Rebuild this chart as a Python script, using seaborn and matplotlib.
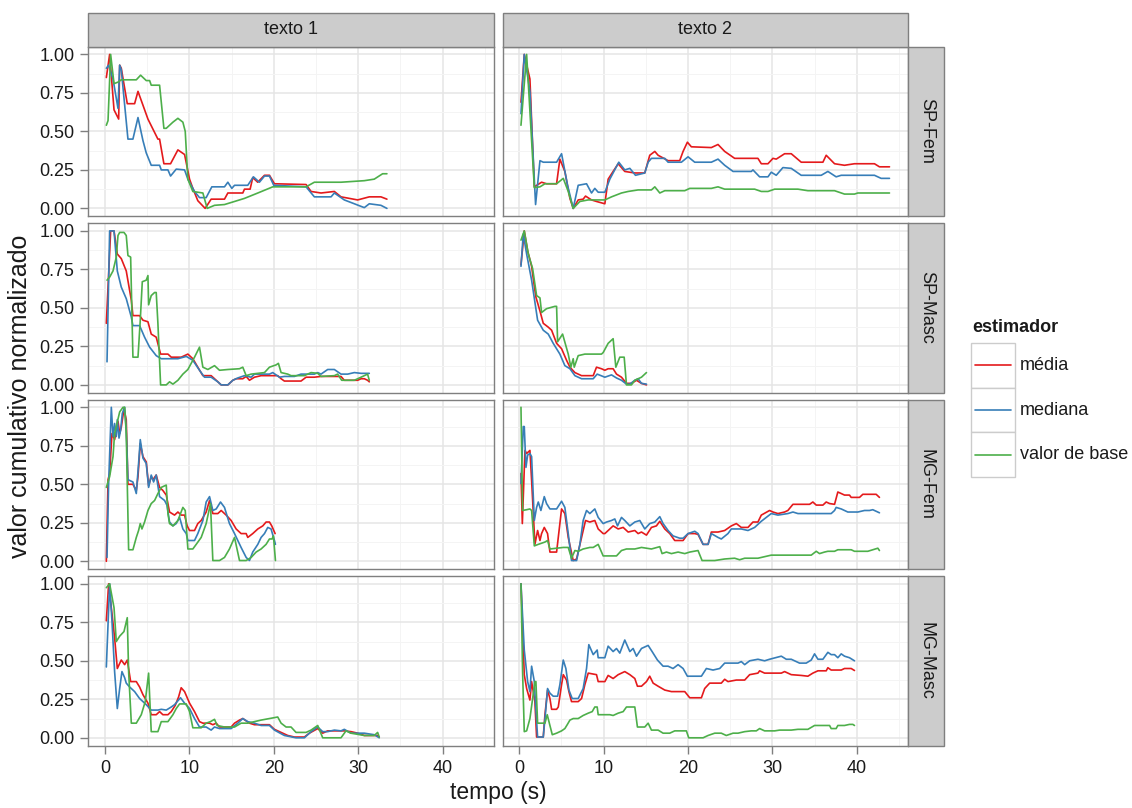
import numpy as np
import pandas as pd
import matplotlib
matplotlib.use("Agg")
import matplotlib.pyplot as plt
from matplotlib.patches import Rectangle
from matplotlib.lines import Line2D
import seaborn as sns

# ---------------- data ----------------
TEXTOS = ["texto 1", "texto 2"]
GRUPOS = ["SP-Fem", "SP-Masc", "MG-Fem", "MG-Masc"]
ESTIMADORES = ["média", "mediana", "valor de base"]
CORES = ["#E41A1C", "#377EB8", "#4DAF4A"]

X_TICKS = [0, 10, 20, 30, 40]
X_TICK_LABELS = ["0", "10", "20", "30", "40"]
X_MINOR = [5, 15, 25, 35, 45]
Y_TICKS = [0.0, 0.25, 0.5, 0.75, 1.0]
Y_TICK_LABELS = ["0.00", "0.25", "0.50", "0.75", "1.00"]
Y_MINOR = [0.125, 0.375, 0.625, 0.875]

X_LABEL = "tempo (s)"
Y_LABEL = "valor cumulativo normalizado"
LEGEND_TITLE = "estimador"

# (tempo, valor) pairs
T1_SPFEM_MEDIA = [(0.16, .85), (0.55, 1.0), (1.07, .64), (1.62, .58), (1.74, .93), (1.93, .91), (2.64, .68), (3.51, .68), (3.91, .76), (5.09, .58), (6.27, .45), (6.47, .45), (6.98, .29), (7.77, .29), (8.64, .38), (9.43, .35), (10.02, .19), (10.41, .13), (11.0, .05), (11.87, .0), (12.58, .06), (14.16, .06), (14.56, .10), (16.33, .10), (16.53, .125), (17.2, .125), (17.51, .20), (18.1, .17), (18.9, .215), (19.49, .215), (20.08, .16), (23.83, .155), (24.42, .11), (25.6, .10), (27.18, .11), (27.97, .075), (29.94, .055), (31.32, .075), (32.7, .075), (33.41, .06)]
T1_SPFEM_MEDIANA = [(0.16, .91), (0.43, .93), (0.95, .84), (1.54, .65), (1.74, .93), (1.93, .90), (2.72, .45), (3.31, .45), (3.91, .59), (4.5, .44), (4.89, .36), (5.48, .28), (6.47, .28), (6.67, .25), (7.46, .25), (7.77, .21), (8.44, .255), (9.43, .25), (9.82, .19), (10.61, .11), (11.2, .07), (11.99, .07), (12.66, .14), (14.16, .14), (14.56, .17), (15.03, .13), (15.35, .15), (16.92, .15), (17.59, .205), (18.3, .17), (18.9, .21), (19.49, .21), (20.0, .15), (23.83, .14), (24.81, .075), (26.79, .075), (27.18, .10), (28.36, .055), (29.55, .03), (30.73, .005), (31.32, .03), (32.7, .02), (33.41, .0)]
T1_SPFEM_BASE = [(0.16, .54), (0.36, .57), (0.67, 1.0), (1.07, .81), (1.54, .82), (1.93, .835), (3.71, .835), (4.22, .865), (4.89, .83), (5.29, .83), (5.48, .80), (6.47, .80), (6.98, .52), (7.26, .52), (8.05, .56), (8.64, .585), (9.23, .56), (9.51, .50), (9.82, .19), (10.41, .11), (11.6, .10), (12.11, .0), (12.98, .02), (14.16, .025), (15.35, .045), (16.53, .065), (18.11, .10), (19.88, .14), (23.83, .14), (24.81, .17), (26.79, .17), (27.97, .17), (30.73, .18), (31.91, .19), (32.9, .225), (33.41, .225)]

T2_SPFEM_MEDIA = [(0.2, .69), (0.59, 1.0), (1.26, .84), (1.78, .14), (2.64, .17), (3.23, .16), (4.42, .16), (4.81, .32), (5.4, .24), (6.0, .065), (6.39, .0), (6.98, .055), (7.57, .06), (7.85, .08), (8.56, .055), (9.15, .045), (10.14, .03), (10.53, .19), (11.12, .24), (11.72, .29), (12.5, .24), (13.69, .23), (14.87, .23), (15.46, .345), (16.06, .37), (16.45, .345), (17.63, .31), (19.01, .31), (19.41, .37), (19.92, .43), (20.39, .40), (22.76, .395), (23.55, .415), (24.34, .37), (25.52, .325), (28.28, .325), (28.68, .29), (29.47, .29), (30.06, .325), (30.45, .32), (31.44, .355), (32.23, .355), (33.41, .30), (35.98, .30), (36.37, .345), (37.36, .29), (38.54, .28), (39.72, .29), (42.09, .29), (42.68, .27), (43.87, .27)]
T2_SPFEM_MEDIANA = [(0.2, .615), (0.59, 1.0), (1.26, .76), (1.93, .025), (2.45, .31), (2.84, .30), (4.42, .30), (5.01, .355), (5.72, .15), (6.39, .0), (6.98, .15), (7.97, .16), (8.56, .10), (8.95, .13), (9.35, .105), (10.14, .105), (10.73, .19), (11.79, .30), (12.5, .25), (13.1, .26), (13.77, .215), (14.87, .23), (15.27, .30), (15.66, .325), (17.24, .325), (17.63, .30), (19.21, .30), (20.0, .335), (20.79, .30), (22.76, .30), (23.55, .32), (24.34, .28), (25.33, .24), (27.5, .24), (27.69, .25), (28.48, .205), (29.47, .205), (29.86, .235), (30.45, .215), (31.24, .265), (32.23, .26), (33.41, .215), (35.78, .215), (36.57, .24), (37.55, .205), (38.15, .215), (42.09, .215), (42.88, .195), (43.87, .195)]
T2_SPFEM_BASE = [(0.2, .54), (0.87, 1.0), (1.78, .135), (2.45, .14), (3.04, .16), (4.42, .16), (5.21, .195), (5.8, .11), (6.39, .0), (7.18, .045), (8.17, .055), (10.14, .055), (10.93, .075), (12.11, .10), (12.9, .11), (14.08, .12), (15.66, .12), (16.06, .14), (16.65, .10), (17.24, .115), (19.61, .115), (20.2, .13), (22.76, .13), (23.55, .14), (24.34, .125), (27.89, .125), (28.68, .11), (29.47, .11), (30.26, .125), (33.02, .125), (34.2, .115), (37.36, .115), (38.54, .093), (39.72, .093), (40.12, .10), (43.87, .10)]

T1_SPMASC_MEDIA = [(0.16, .40), (0.67, 1.0), (1.07, 1.0), (1.46, .85), (1.93, .82), (2.52, .74), (3.12, .55), (3.31, .45), (4.1, .45), (4.5, .42), (5.09, .41), (5.48, .33), (6.07, .31), (6.59, .20), (7.46, .20), (7.85, .18), (9.03, .18), (9.82, .20), (10.41, .17), (11.0, .115), (11.6, .06), (12.58, .06), (13.18, .03), (13.77, .0), (14.56, .0), (15.15, .03), (15.54, .04), (16.33, .04), (16.73, .055), (17.12, .03), (17.71, .05), (18.5, .06), (20.47, .06), (20.87, .04), (21.26, .025), (23.23, .025), (23.83, .05), (24.81, .05), (25.6, .055), (27.97, .055), (28.36, .03), (29.94, .03), (30.34, .04), (30.73, .04), (31.12, .03), (31.32, .02)]
T1_SPMASC_MEDIANA = [(0.24, .15), (0.55, 1.0), (1.07, 1.0), (1.46, .74), (1.93, .635), (2.52, .56), (3.12, .44), (3.31, .385), (4.1, .385), (4.69, .31), (5.29, .245), (6.07, .19), (6.67, .17), (8.64, .17), (9.63, .185), (10.41, .16), (11.2, .095), (11.79, .05), (12.58, .05), (13.37, .02), (13.77, .0), (14.56, .0), (15.15, .03), (15.74, .045), (16.53, .06), (17.32, .05), (17.71, .07), (19.49, .07), (19.88, .08), (20.67, .05), (21.26, .055), (22.45, .055), (23.23, .07), (24.81, .07), (25.21, .08), (25.6, .07), (26.39, .10), (27.18, .10), (27.97, .07), (28.76, .07), (29.55, .08), (30.34, .075), (31.32, .075)]
T1_SPMASC_BASE = [(0.24, .68), (0.55, .70), (0.95, .74), (1.34, .83), (1.54, .97), (1.74, .99), (2.25, .99), (2.52, .97), (2.72, .84), (3.04, .83), (3.31, .18), (3.91, .18), (4.18, .42), (4.42, .67), (4.89, .68), (5.09, .71), (5.17, .52), (5.48, .58), (5.88, .60), (6.07, .60), (6.27, .40), (6.59, .0), (7.26, .0), (7.65, .02), (8.05, .005), (8.64, .03), (9.23, .07), (9.82, .10), (10.61, .18), (11.2, .245), (11.6, .115), (12.19, .10), (12.98, .125), (13.57, .095), (14.56, .10), (15.94, .105), (16.33, .115), (16.73, .06), (17.32, .07), (18.9, .08), (19.49, .115), (20.28, .13), (20.55, .14), (20.87, .08), (21.66, .07), (22.05, .06), (23.63, .06), (24.42, .08), (25.21, .075), (25.6, .055), (27.18, .06), (27.57, .07), (28.05, .03), (29.55, .03), (30.34, .05), (31.12, .07), (31.32, .03)]

T2_SPMASC_MEDIA = [(0.2, .78), (0.59, 1.0), (0.99, .87), (1.46, .77), (1.78, .64), (1.97, .57), (2.45, .48), (2.84, .40), (3.43, .375), (3.83, .355), (4.42, .27), (5.01, .235), (5.6, .16), (6.0, .115), (6.59, .08), (7.38, .06), (8.76, .06), (9.15, .115), (9.74, .105), (10.14, .095), (10.53, .105), (11.12, .105), (11.52, .07), (12.11, .05), (12.7, .01), (13.29, .01), (13.89, .03), (14.48, .01), (15.07, .0)]
T2_SPMASC_MEDIANA = [(0.2, .77), (0.47, .98), (0.87, .85), (1.46, .68), (2.17, .42), (2.84, .355), (3.43, .33), (4.02, .27), (4.81, .20), (5.4, .125), (6.0, .105), (6.59, .06), (7.38, .04), (8.76, .04), (9.23, .07), (10.14, .05), (10.93, .065), (11.52, .045), (12.11, .03), (12.7, .005), (13.1, .005), (13.69, .03), (14.08, .04), (14.48, .01), (15.07, .005)]
T2_SPMASC_BASE = [(0.2, .94), (0.59, 1.0), (1.07, .85), (1.58, .755), (2.05, .58), (2.45, .565), (2.64, .47), (3.23, .495), (4.22, .51), (4.42, .51), (4.54, .28), (5.13, .33), (5.8, .20), (6.11, .115), (6.39, .17), (6.51, .115), (6.98, .19), (7.77, .20), (9.74, .20), (9.94, .21), (10.53, .27), (11.12, .30), (11.44, .115), (11.91, .18), (12.43, .18), (12.7, .0), (13.29, .0), (13.69, .03), (14.48, .05), (15.07, .08)]

T1_MGFEM_MEDIA = [(0.16, .0), (0.36, .53), (0.55, .57), (0.83, .83), (1.14, .79), (1.34, .85), (1.54, .91), (1.74, .83), (1.93, .87), (2.25, .99), (2.52, .92), (2.72, .50), (3.31, .50), (3.71, .46), (3.91, .55), (4.18, .765), (4.5, .68), (4.89, .645), (5.17, .49), (5.48, .55), (5.68, .53), (6.07, .56), (6.47, .48), (6.86, .46), (7.26, .43), (7.65, .32), (8.24, .30), (8.64, .32), (9.03, .30), (9.43, .30), (9.74, .23), (10.02, .20), (10.61, .20), (11.0, .245), (11.4, .265), (11.99, .32), (12.39, .395), (12.78, .31), (13.37, .31), (13.77, .33), (14.36, .30), (14.95, .265), (15.54, .21), (16.13, .18), (16.73, .18), (16.92, .155), (17.51, .18), (18.11, .21), (18.7, .23), (19.09, .255), (19.49, .255), (19.76, .23), (20.16, .18)]
T1_MGFEM_MEDIANA = [(0.24, .025), (0.43, .505), (0.75, 1.0), (0.95, .81), (1.14, .895), (1.34, .81), (1.46, .92), (1.66, .80), (1.85, .85), (2.05, .96), (2.33, 1.0), (2.52, .85), (2.72, .53), (3.31, .515), (3.71, .44), (3.98, .635), (4.18, .79), (4.5, .67), (4.89, .635), (5.17, .48), (5.48, .56), (5.76, .515), (6.07, .56), (6.47, .42), (7.06, .395), (7.34, .365), (7.65, .255), (8.05, .23), (8.44, .245), (8.84, .285), (9.23, .21), (9.63, .18), (9.82, .135), (10.61, .135), (11.0, .18), (11.6, .265), (11.99, .385), (12.39, .42), (12.78, .33), (13.18, .34), (13.69, .385), (14.16, .35), (14.75, .245), (15.35, .18), (16.13, .09), (16.73, .025), (17.12, .005), (17.51, .06), (18.11, .11), (18.5, .155), (18.9, .18), (19.29, .22), (19.68, .21), (20.08, .135), (20.2, .11)]
T1_MGFEM_BASE = [(0.16, .48), (0.55, .55), (0.95, .68), (1.14, .83), (1.74, .97), (2.13, 1.0), (2.33, 1.0), (2.52, .83), (2.8, .075), (3.31, .075), (3.71, .155), (3.98, .20), (4.18, .245), (4.38, .21), (4.69, .255), (5.09, .33), (5.48, .375), (5.88, .395), (6.27, .44), (6.67, .48), (7.26, .495), (7.46, .31), (7.65, .245), (8.05, .23), (8.64, .265), (9.23, .35), (9.51, .33), (9.82, .08), (10.41, .08), (10.81, .11), (11.4, .155), (11.99, .245), (12.5, .375), (12.78, .005), (13.57, .005), (14.16, .025), (14.75, .08), (15.35, .155), (15.94, .005), (16.73, .005), (17.32, .025), (17.91, .06), (18.5, .08), (19.09, .11), (19.49, .145), (19.8, .145), (19.96, .165), (20.2, .005)]

T2_MGFEM_MEDIA = [(0.2, .57), (0.36, .245), (0.67, .72), (0.87, .70), (1.26, .72), (1.46, .525), (1.85, .11), (2.17, .20), (2.45, .135), (2.64, .18), (2.96, .22), (3.35, .18), (3.63, .06), (4.42, .06), (4.62, .155), (5.01, .34), (5.4, .31), (5.8, .155), (6.39, .005), (6.79, .015), (7.38, .155), (7.85, .265), (8.36, .255), (8.95, .265), (9.35, .21), (9.94, .18), (10.14, .18), (10.73, .21), (11.12, .23), (11.72, .21), (12.31, .22), (12.9, .19), (13.69, .20), (14.08, .18), (14.48, .19), (15.07, .17), (15.66, .22), (16.25, .23), (16.65, .26), (17.24, .21), (17.83, .18), (18.42, .135), (19.41, .135), (20.0, .18), (20.79, .18), (21.18, .175), (21.78, .11), (22.37, .11), (22.76, .19), (23.55, .19), (24.34, .20), (25.13, .23), (25.72, .245), (26.31, .22), (27.1, .22), (27.69, .255), (28.28, .255), (28.68, .30), (29.66, .33), (30.06, .32), (30.65, .31), (31.44, .32), (31.83, .33), (32.43, .37), (34.4, .37), (34.79, .385), (35.19, .365), (35.98, .365), (36.37, .385), (36.77, .375), (37.36, .37), (37.75, .45), (38.15, .44), (38.54, .43), (39.13, .43), (39.33, .415), (40.32, .415), (40.71, .435), (42.29, .435), (42.68, .415)]
T2_MGFEM_MEDIANA = [(0.2, .505), (0.47, .875), (0.59, .875), (0.79, .61), (0.99, .69), (1.26, .70), (1.46, .68), (1.78, .265), (2.05, .35), (2.25, .385), (2.56, .33), (2.96, .42), (3.23, .375), (3.63, .34), (4.42, .34), (5.01, .39), (5.4, .35), (5.8, .18), (6.19, .005), (6.79, .005), (7.18, .11), (7.57, .265), (7.97, .33), (8.36, .31), (8.95, .34), (9.35, .285), (9.94, .245), (10.34, .255), (10.93, .265), (11.32, .275), (11.64, .23), (12.11, .285), (12.5, .265), (13.1, .23), (13.69, .255), (14.28, .265), (14.87, .21), (15.46, .245), (16.06, .255), (16.65, .29), (17.04, .245), (17.63, .20), (18.22, .165), (19.01, .15), (19.41, .15), (20.0, .18), (20.79, .195), (21.18, .18), (21.78, .11), (22.37, .11), (22.76, .18), (23.55, .155), (23.94, .145), (24.73, .18), (25.13, .21), (26.31, .21), (27.1, .20), (27.89, .22), (28.68, .26), (29.27, .285), (29.86, .31), (30.65, .30), (31.83, .31), (32.43, .32), (33.02, .31), (36.96, .31), (37.36, .33), (37.55, .35), (38.15, .34), (38.54, .33), (38.93, .32), (40.12, .32), (40.91, .33), (41.5, .33), (41.89, .335), (42.68, .315)]
T2_MGFEM_BASE = [(0.2, 1.0), (0.39, .33), (0.87, .335), (1.26, .34), (1.46, .33), (1.78, .10), (2.25, .11), (3.04, .125), (3.35, .135), (3.63, .08), (4.42, .085), (5.21, .09), (5.8, .09), (6.19, .02), (6.59, .07), (6.98, .065), (7.57, .08), (8.36, .09), (8.76, .09), (9.35, .11), (9.94, .035), (11.52, .035), (12.11, .07), (12.7, .08), (13.69, .08), (14.48, .09), (15.66, .08), (16.65, .095), (16.92, .05), (17.44, .06), (18.03, .05), (18.82, .06), (19.61, .05), (20.2, .06), (21.18, .07), (21.66, .005), (23.16, .005), (24.34, .015), (25.52, .02), (26.11, .01), (26.71, .02), (28.28, .02), (29.07, .03), (29.86, .04), (34.6, .04), (35.19, .065), (35.58, .05), (36.17, .06), (36.57, .065), (37.36, .065), (37.75, .075), (39.33, .075), (39.72, .065), (41.3, .065), (42.49, .085), (42.68, .07)]

T1_MGMASC_MEDIA = [(0.16, .76), (0.43, 1.0), (0.75, .845), (1.14, .65), (1.46, .45), (1.93, .505), (2.33, .475), (2.64, .505), (3.04, .365), (3.71, .365), (4.1, .33), (4.5, .28), (5.09, .225), (5.48, .15), (6.07, .15), (6.47, .17), (6.86, .15), (7.46, .15), (7.85, .17), (8.32, .21), (8.72, .265), (9.03, .325), (9.43, .30), (10.02, .225), (10.61, .17), (11.2, .105), (11.6, .095), (12.39, .095), (12.78, .085), (13.18, .095), (13.57, .07), (14.95, .07), (15.35, .095), (15.94, .115), (16.33, .125), (17.12, .095), (17.71, .085), (18.5, .085), (19.49, .085), (20.08, .055), (20.67, .04), (21.66, .015), (22.45, .005), (23.63, .005), (24.22, .03), (25.21, .06), (25.8, .03), (26.39, .045), (28.36, .045), (29.15, .04), (29.94, .03), (30.73, .015), (32.31, .015), (32.5, .005)]
T1_MGMASC_MEDIANA = [(0.16, .46), (0.55, 1.0), (0.83, .755), (1.14, .43), (1.46, .19), (1.74, .32), (2.01, .43), (2.33, .39), (2.52, .355), (2.92, .33), (3.51, .30), (4.1, .255), (4.5, .235), (4.89, .215), (5.48, .18), (6.27, .18), (6.67, .185), (7.26, .18), (7.85, .20), (8.24, .215), (8.95, .26), (9.43, .225), (10.02, .19), (10.61, .125), (11.2, .07), (11.99, .07), (12.58, .05), (12.98, .07), (13.57, .06), (14.95, .06), (15.74, .095), (16.33, .125), (16.92, .105), (17.71, .095), (18.5, .08), (19.49, .08), (20.08, .05), (21.26, .015), (22.64, .0), (23.63, .0), (24.42, .04), (25.21, .07), (25.8, .04), (26.39, .04), (27.18, .05), (27.97, .045), (28.36, .055), (29.15, .03), (30.73, .03), (31.91, .02), (32.5, .0)]
T1_MGMASC_BASE = [(0.16, .975), (0.55, 1.0), (1.07, .845), (1.34, .625), (1.74, .66), (2.25, .69), (2.64, .78), (2.8, .43), (3.12, .095), (3.71, .095), (4.3, .15), (4.77, .235), (5.17, .42), (5.48, .04), (6.27, .04), (6.67, .105), (7.46, .105), (8.05, .15), (8.44, .19), (8.84, .22), (9.63, .22), (10.02, .17), (10.41, .065), (11.4, .065), (11.99, .095), (12.5, .105), (12.98, .12), (13.29, .08), (14.16, .07), (15.35, .07), (16.13, .095), (16.92, .095), (17.71, .105), (18.5, .115), (19.49, .125), (20.47, .135), (20.87, .095), (21.46, .07), (22.05, .07), (22.64, .035), (23.83, .035), (24.42, .05), (25.21, .08), (25.8, .0), (27.97, .0), (28.56, .045), (29.15, .03), (30.73, .015), (31.91, .015), (32.31, .035), (32.5, .005)]

T2_MGMASC_MEDIA = [(0.2, 1.0), (0.59, .41), (0.87, .32), (1.26, .245), (1.46, .365), (1.85, .235), (2.05, .005), (2.84, .005), (3.04, .15), (3.35, .31), (3.63, .255), (3.83, .185), (4.42, .185), (4.62, .20), (5.01, .345), (5.21, .41), (5.6, .375), (5.88, .30), (6.19, .235), (6.98, .235), (7.38, .255), (7.77, .345), (8.17, .42), (9.15, .41), (9.35, .365), (10.14, .365), (10.53, .405), (11.12, .385), (11.72, .41), (12.5, .43), (13.1, .41), (13.69, .385), (14.0, .335), (14.48, .335), (15.07, .365), (15.46, .40), (15.86, .355), (16.45, .335), (17.24, .31), (18.03, .30), (19.61, .30), (20.2, .26), (21.58, .26), (21.97, .32), (22.56, .355), (23.94, .355), (24.34, .38), (24.73, .365), (25.72, .375), (26.71, .375), (27.3, .41), (28.28, .42), (28.48, .435), (29.07, .42), (31.05, .42), (31.44, .43), (32.23, .41), (33.41, .405), (34.2, .40), (34.79, .42), (35.39, .435), (36.37, .435), (36.57, .455), (36.96, .44), (38.15, .44), (38.54, .45), (39.33, .45), (39.72, .437)]
T2_MGMASC_MEDIANA = [(0.2, 1.0), (0.59, .57), (0.99, .365), (1.26, .30), (1.46, .465), (1.78, .365), (1.93, .215), (2.17, .005), (2.84, .005), (3.12, .17), (3.35, .32), (3.63, .29), (4.02, .27), (4.54, .27), (4.81, .345), (5.21, .505), (5.52, .45), (5.88, .31), (6.27, .255), (6.98, .255), (7.57, .32), (7.97, .45), (8.24, .605), (8.76, .54), (9.23, .57), (9.35, .52), (10.14, .52), (10.53, .595), (11.12, .56), (11.52, .58), (11.91, .55), (12.5, .635), (13.1, .56), (13.49, .58), (13.89, .53), (14.48, .58), (15.27, .60), (15.74, .56), (16.37, .505), (17.04, .465), (17.63, .465), (18.22, .45), (18.82, .475), (19.41, .45), (19.92, .40), (21.58, .40), (22.17, .45), (22.96, .44), (23.75, .45), (24.34, .485), (25.92, .485), (26.31, .495), (26.71, .475), (27.3, .50), (28.28, .51), (29.07, .50), (29.66, .51), (31.05, .53), (31.64, .51), (32.23, .51), (33.21, .485), (34.0, .485), (34.6, .505), (34.99, .545), (35.39, .51), (35.98, .51), (36.57, .555), (36.96, .54), (37.36, .54), (37.75, .52), (38.15, .545), (38.54, .53), (39.13, .52), (39.72, .50)]
T2_MGMASC_BASE = [(0.2, 1.0), (0.39, .43), (0.59, .04), (0.87, .045), (1.26, .125), (1.58, .255), (1.85, .365), (1.97, .365), (2.17, .095), (2.84, .095), (3.04, .095), (3.31, .15), (3.63, .08), (3.91, .02), (4.42, .03), (5.01, .045), (5.4, .06), (5.68, .085), (6.0, .115), (6.39, .125), (6.98, .125), (7.57, .145), (8.17, .16), (8.64, .17), (8.95, .20), (9.23, .20), (9.35, .15), (10.34, .15), (10.73, .15), (11.12, .145), (11.72, .16), (12.31, .17), (12.7, .20), (13.69, .20), (14.0, .07), (14.87, .07), (15.27, .095), (15.66, .05), (16.45, .05), (17.04, .03), (17.83, .03), (18.42, .045), (19.8, .045), (20.08, .0), (21.78, .0), (22.37, .015), (23.16, .03), (23.94, .03), (24.53, .015), (25.33, .03), (25.92, .03), (26.71, .04), (27.5, .045), (28.09, .045), (28.48, .06), (29.07, .045), (30.26, .045), (30.85, .05), (32.23, .05), (33.02, .055), (34.2, .055), (34.99, .08), (36.77, .08), (36.96, .06), (37.55, .06), (37.75, .08), (38.54, .08), (39.13, .087), (39.53, .087), (39.72, .08)]

SERIES = {
    ("texto 1", "SP-Fem"): [T1_SPFEM_MEDIA, T1_SPFEM_MEDIANA, T1_SPFEM_BASE],
    ("texto 2", "SP-Fem"): [T2_SPFEM_MEDIA, T2_SPFEM_MEDIANA, T2_SPFEM_BASE],
    ("texto 1", "SP-Masc"): [T1_SPMASC_MEDIA, T1_SPMASC_MEDIANA, T1_SPMASC_BASE],
    ("texto 2", "SP-Masc"): [T2_SPMASC_MEDIA, T2_SPMASC_MEDIANA, T2_SPMASC_BASE],
    ("texto 1", "MG-Fem"): [T1_MGFEM_MEDIA, T1_MGFEM_MEDIANA, T1_MGFEM_BASE],
    ("texto 2", "MG-Fem"): [T2_MGFEM_MEDIA, T2_MGFEM_MEDIANA, T2_MGFEM_BASE],
    ("texto 1", "MG-Masc"): [T1_MGMASC_MEDIA, T1_MGMASC_MEDIANA, T1_MGMASC_BASE],
    ("texto 2", "MG-Masc"): [T2_MGMASC_MEDIA, T2_MGMASC_MEDIANA, T2_MGMASC_BASE],
}

rows = []
for (texto, grupo), series in SERIES.items():
    for est, pts in zip(ESTIMADORES, series):
        for i, (t, v) in enumerate(pts):
            rows.append({"texto": texto, "grupo": grupo, "estimador": est,
                         "ordem": i, "tempo": t, "valor": v})
df = pd.DataFrame(rows)

# ---------------- style ----------------
sns.set_theme(style="white")
plt.rcParams["font.family"] = ["Liberation Sans", "DejaVu Sans"]

W, H = 1132, 808
TXT = "#1A1A1A"
GREY50 = "#7F7F7F"

g = sns.FacetGrid(df, row="grupo", col="texto", row_order=GRUPOS, col_order=TEXTOS,
                  sharex=True, sharey=True, despine=False, height=2, aspect=2)
g.map_dataframe(sns.lineplot, x="tempo", y="valor", hue="estimador",
                hue_order=ESTIMADORES, palette=CORES, estimator=None, sort=False,
                linewidth=1.2, legend=False)

fig = g.figure
fig.set_size_inches(W / 100, H / 100)
fig.set_dpi(100)

COL_X = [88.2, 502.5]
PANEL_W = 405.8
ROW_Y = [46.7, 223.2, 399.6, 576.1]
PANEL_H = 169.4


def fx(x):
    return x / W


def fy(y):
    return 1 - y / H


for r, grupo in enumerate(GRUPOS):
    for c, texto in enumerate(TEXTOS):
        ax = g.axes[r, c]
        ax.set_position([fx(COL_X[c]), fy(ROW_Y[r] + PANEL_H), PANEL_W / W, PANEL_H / H])
        ax.set_xlim(-1.99, 46.1)
        ax.set_ylim(-0.05, 1.05)
        ax.set_xticks(X_TICKS)
        ax.set_xticks(X_MINOR, minor=True)
        ax.set_yticks(Y_TICKS)
        ax.set_yticks(Y_MINOR, minor=True)
        ax.set_facecolor("white")
        ax.grid(which="major", color="#E5E5E5", linewidth=1.1)
        ax.grid(which="minor", color="#F4F4F4", linewidth=0.7)
        ax.set_axisbelow(True)
        for s in ax.spines.values():
            s.set_color(GREY50)
            s.set_linewidth(1.0)
            s.set_zorder(5)
        ax.tick_params(which="minor", length=0)
        ax.tick_params(axis="both", which="major", length=6, width=1.0,
                       color=GREY50, labelsize=13, labelcolor=TXT)
        ax.tick_params(axis="x", pad=4.5)
        ax.tick_params(axis="y", pad=4)
        ax.set_title("")
        ax.set_xlabel("")
        ax.set_ylabel("")
        if c == 0:
            ax.set_yticklabels(Y_TICK_LABELS)
            ax.tick_params(axis="y", left=True, labelleft=True)
        else:
            ax.tick_params(axis="y", left=False, labelleft=False)
        if r == len(GRUPOS) - 1:
            ax.set_xticklabels(X_TICK_LABELS)
            ax.tick_params(axis="x", bottom=True, labelbottom=True)
        else:
            ax.tick_params(axis="x", bottom=False, labelbottom=False)

# strips (top)
STRIP_TOP = 13.3
for c, texto in enumerate(TEXTOS):
    rect = Rectangle((fx(COL_X[c]), fy(ROW_Y[0])), PANEL_W / W, (ROW_Y[0] - STRIP_TOP) / H,
                     transform=fig.transFigure, facecolor="#CCCCCC", edgecolor=GREY50,
                     linewidth=1.0, zorder=3)
    fig.add_artist(rect)
    fig.text(fx(COL_X[c] + PANEL_W / 2), fy((ROW_Y[0] + STRIP_TOP) / 2), texto,
             ha="center", va="center", fontsize=13, color=TXT, zorder=4)

# strips (right)
STRIP_R0 = COL_X[1] + PANEL_W
STRIP_W = 36
for r, grupo in enumerate(GRUPOS):
    rect = Rectangle((fx(STRIP_R0), fy(ROW_Y[r] + PANEL_H)), STRIP_W / W, PANEL_H / H,
                     transform=fig.transFigure, facecolor="#CCCCCC", edgecolor=GREY50,
                     linewidth=1.0, zorder=3)
    fig.add_artist(rect)
    fig.text(fx(STRIP_R0 + STRIP_W / 2), fy(ROW_Y[r] + PANEL_H / 2), grupo,
             ha="center", va="center", rotation=270, fontsize=13, color=TXT, zorder=4)

# axis titles
fig.text(fx(498.5), fy(792), X_LABEL, ha="center", va="center", fontsize=16.5, color=TXT)
fig.text(fx(20), fy(396), Y_LABEL, ha="center", va="center", rotation=90,
         fontsize=18, color=TXT)

# legend
fig.text(fx(972), fy(327), LEGEND_TITLE, ha="left", va="center", fontsize=13,
         fontweight="bold", color=TXT)
KEY_X, KEY_W, KEY_Y0, KEY_H = 971, 44, 343, 44.7
for i, (est, cor) in enumerate(zip(ESTIMADORES, CORES)):
    y0 = KEY_Y0 + i * KEY_H
    fig.add_artist(Rectangle((fx(KEY_X), fy(y0 + KEY_H)), KEY_W / W, KEY_H / H,
                             transform=fig.transFigure, facecolor="white",
                             edgecolor="#CCCCCC", linewidth=1.0))
    yc = y0 + KEY_H / 2
    fig.add_artist(Line2D([fx(KEY_X + 4), fx(KEY_X + KEY_W - 4)], [fy(yc), fy(yc)],
                          transform=fig.transFigure, color=cor, linewidth=1.2))
    fig.text(fx(1020), fy(yc), est, ha="left", va="center", fontsize=13, color=TXT)

fig.savefig("out.png", dpi=100, facecolor="white")
